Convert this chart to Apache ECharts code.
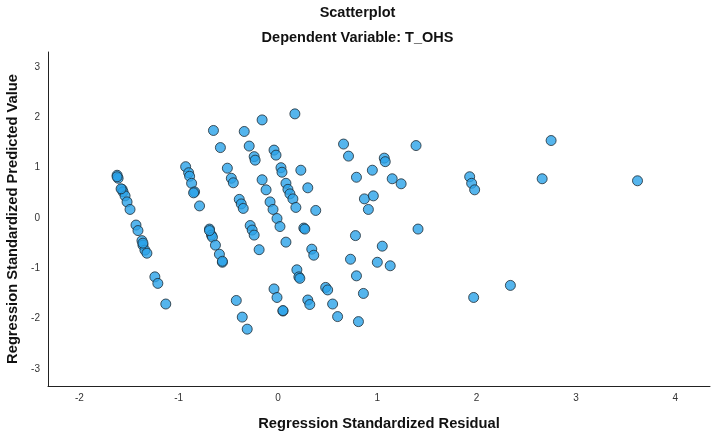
<!DOCTYPE html>
<html>
<head>
<meta charset="utf-8">
<title>Scatterplot</title>
<script src="https://cdn.jsdelivr.net/npm/echarts@6/dist/echarts.min.js"></script>
<style>
  html, body { margin: 0; padding: 0; background: #ffffff; }
  #chart { width: 715px; height: 432px; }
</style>
</head>
<body>
<div id="chart"></div>
<script>
// Regression residual scatterplot for dependent variable T_OHS.
// Each point: [standardized residual, standardized predicted value].
const residuals = [
  -1.62, -1.61, -1.57, -1.56, -1.54, -1.52, -1.49, -1.43, -1.41, -1.37, -1.36, -1.34, -1.32, -1.24, -1.21, -1.13,
  -1.62, -1.58, -1.36,
  -0.93, -0.90, -0.89, -0.87, -0.84, -0.79, -0.69, -0.67, -0.66, -0.63, -0.59, -0.56, -0.65, -0.58,
  -0.85, -0.69, -0.56,
  -0.51, -0.47, -0.45, -0.39, -0.37, -0.35, -0.28, -0.26, -0.24, -0.19, -0.42, -0.36, -0.31,
  -0.34, -0.29, -0.24, -0.23, -0.16,
  -0.16, -0.12, -0.08, -0.05, -0.01, 0.02, 0.08, -0.04, -0.02, 0.03, 0.04, 0.08, 0.10, 0.12, 0.15,
  0.19, 0.21, 0.22, -0.04, -0.01, 0.05, 0.05, 0.17, 0.23, 0.30, 0.18, 0.38, 0.26, 0.27, 0.34, 0.36,
  0.30, 0.32, 0.48, 0.50, 0.55, 0.60,
  0.66, 0.71, 1.07, 1.08, 0.95, 0.79, 1.15, 1.24, 0.87, 0.96, 0.91, 0.78, 1.41, 1.05, 0.73, 1.00,
  1.13, 0.79, 0.86, 0.81, 1.39,
  1.93, 1.95, 1.98, 1.97, 2.34, 2.75, 2.66, 3.62
];
const predicted = [
  0.85, 0.79, 0.57, 0.52, 0.44, 0.32, 0.17, -0.14, -0.25, -0.45, -0.54, -0.64, -0.70, -1.17, -1.30, -1.71,
  0.82, 0.58, -0.50,
  1.02, 0.90, 0.83, 0.69, 0.52, 0.24, -0.22, -0.34, -0.38, -0.54, -0.72, -0.88, 1.74, 1.40,
  0.50, -0.25, -0.86,
  0.99, 0.79, 0.70, 0.37, 0.28, 0.19, -0.15, -0.24, -0.34, -0.63, -1.64, -1.97, -2.21,
  1.72, 1.43, 1.22, 1.15, 1.95,
  0.76, 0.56, 0.32, 0.17, -0.01, -0.17, -0.48, 1.35, 1.25, 1.00, 0.91, 0.69, 0.57, 0.48, 0.38,
  -1.03, -1.17, -1.20, -1.41, -1.58, -1.85, -1.84, 2.07, 0.95, 0.60, 0.21, 0.15, -0.20, -0.22, -0.62, -0.74,
  -1.63, -1.72, -1.38, -1.43, -1.71, -1.96,
  1.47, 1.23, 1.19, 1.12, 0.95, 0.81, 0.78, 0.68, 0.38, 0.44, 0.17, -0.35, -0.22, -0.56, -0.82, -0.88,
  -0.95, -1.15, -1.50, -2.06, 1.44,
  0.82, 0.69, 0.56, -1.58, -1.34, 1.54, 0.78, 0.74
];
const xTicks = [-2, -1, 0, 1, 2, 3, 4];
const yTicks = [-3, -2, -1, 0, 1, 2, 3];

const points = residuals.map((r, i) => [r, predicted[i]]);

const FONT = '"Liberation Sans", Arial, sans-serif';

const chart = echarts.init(document.getElementById('chart'), null, { renderer: 'canvas' });
chart.setOption({
  animation: false,
  backgroundColor: '#ffffff',
  title: [
    {
      text: 'Scatterplot',
      left: 'center',
      top: 0,
      textStyle: { fontFamily: FONT, fontSize: 14.5, fontWeight: 'bold', color: '#111' }
    },
    {
      text: 'Dependent Variable: T_OHS',
      left: 'center',
      top: 25,
      textStyle: { fontFamily: FONT, fontSize: 14.5, fontWeight: 'bold', color: '#111' }
    }
  ],
  grid: { left: 48, right: 5, top: 52, bottom: 46, containLabel: false, outerBoundsMode: 'none' },
  xAxis: {
    type: 'value',
    min: -2.316,
    max: 4.35,
    name: 'Regression Standardized Residual',
    nameLocation: 'middle',
    nameGap: 30,
    nameTextStyle: { fontFamily: FONT, fontSize: 14.7, fontWeight: 'bold', color: '#111' },
    axisLine: { show: true, onZero: false, lineStyle: { color: '#222', width: 1 } },
    axisTick: { show: false },
    splitLine: { show: false },
    axisLabel: {
      customValues: xTicks,
      margin: 7,
      fontFamily: FONT,
      fontSize: 10,
      color: '#333'
    }
  },
  yAxis: {
    type: 'value',
    min: -3.34,
    max: 3.30,
    name: 'Regression Standardized Predicted Value',
    nameLocation: 'middle',
    nameGap: 26,
    nameRotate: 90,
    nameTextStyle: { fontFamily: FONT, fontSize: 14.7, fontWeight: 'bold', color: '#111' },
    axisLine: { show: true, onZero: false, lineStyle: { color: '#222', width: 1 } },
    axisTick: { show: false },
    splitLine: { show: false },
    axisLabel: {
      customValues: yTicks,
      margin: 8,
      fontFamily: FONT,
      fontSize: 10,
      color: '#333'
    }
  },
  series: [{
    type: 'scatter',
    data: points,
    symbol: 'circle',
    symbolSize: 10,
    itemStyle: {
      color: '#2ba2e8',
      borderColor: '#1e2a33',
      borderWidth: 1
    }
  }]
});
</script>
</body>
</html>
